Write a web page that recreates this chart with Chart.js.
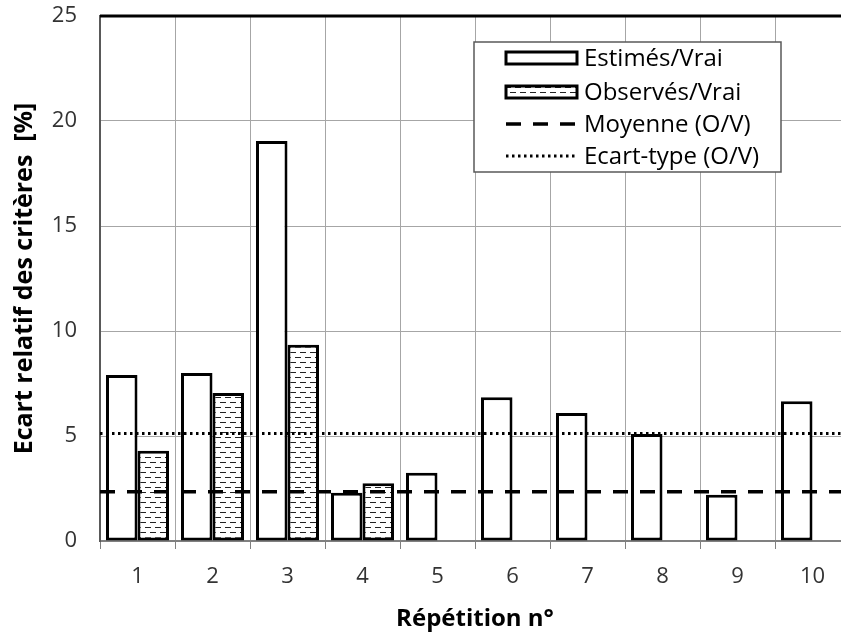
<!DOCTYPE html>
<html>
<head>
<meta charset="utf-8">
<script src="https://cdn.jsdelivr.net/npm/chart.js@4.4.1/dist/chart.umd.min.js"></script>
<style>
  html, body { margin: 0; padding: 0; background: #fff; overflow: hidden; }
  #chart { display: block; }
</style>
</head>
<body>
<canvas id="chart" width="860" height="634"></canvas>
<script>
const repetitions = ["1", "2", "3", "4", "5", "6", "7", "8", "9", "10"];
const estimes = [7.9, 8.0, 19.05, 2.3, 3.25, 6.85, 6.1, 5.1, 2.2, 6.65];
const observes = [4.3, 7.05, 9.35, 2.75, null, null, null, null, null, null];
const refLabels = ["Moyenne (O/V)", "Ecart-type (O/V)"];
const refValues = [2.35, 5.12];
const yTicks = [0, 5, 10, 15, 20, 25];

const refStyles = [
  { dash: [15, 12], width: 3.5 },
  { dash: [2.5, 3.5], width: 3 }
];

// hatch: short dashes on white, like the Excel pattern
function makePattern() {
  const c = document.createElement("canvas");
  c.width = 10;
  c.height = 10;
  const g = c.getContext("2d");
  g.fillStyle = "#fff";
  g.fillRect(0, 0, 10, 10);
  g.fillStyle = "#222";
  g.fillRect(0, 2, 6, 1);
  g.fillRect(5, 7, 5, 1);
  g.fillRect(0, 7, 1, 1);
  return g.createPattern(c, "repeat");
}
const hatch = makePattern();

const font = "'Open Sans', sans-serif";

// horizontal reference lines + thick top border, on top of the bars
const refLinesPlugin = {
  id: "refLines",
  afterDatasetsDraw(chart) {
    const { ctx, chartArea: a, scales } = chart;
    ctx.save();
    ctx.beginPath();
    ctx.rect(a.left, a.top - 2, a.right - a.left, a.bottom - a.top + 2);
    ctx.clip();
    refValues.forEach((v, i) => {
      const y = scales.y.getPixelForValue(v);
      ctx.strokeStyle = "#000";
      ctx.lineWidth = refStyles[i].width;
      ctx.setLineDash(refStyles[i].dash);
      ctx.beginPath();
      ctx.moveTo(a.left, y);
      ctx.lineTo(a.right, y);
      ctx.stroke();
    });
    ctx.setLineDash([]);
    ctx.lineWidth = 3;
    ctx.beginPath();
    ctx.moveTo(a.left, a.top);
    ctx.lineTo(a.right, a.top);
    ctx.stroke();
    ctx.restore();
  }
};

const legendBox = {
  id: "legendBox",
  afterDraw(chart) {
    const ctx = chart.ctx;
    const x = 474, y = 42, w = 307, h = 130;
    const rows = [58, 92, 124, 156];
    const sx = 506, ex = 577;
    ctx.save();
    ctx.fillStyle = "#fff";
    ctx.fillRect(x, y, w, h);
    ctx.strokeStyle = "#595959";
    ctx.lineWidth = 1.5;
    ctx.strokeRect(x, y, w, h);
    ctx.font = "24px " + font;
    ctx.textBaseline = "middle";
    chart.data.datasets.forEach((ds, i) => {
      const cy = rows[i];
      ctx.fillStyle = ds.backgroundColor;
      ctx.fillRect(sx, cy - 6, ex - sx, 12);
      ctx.strokeStyle = "#000";
      ctx.lineWidth = 3;
      ctx.strokeRect(sx, cy - 6, ex - sx, 12);
      ctx.fillStyle = "#000";
      ctx.fillText(ds.label, 584, cy + 1);
    });
    refLabels.forEach((lab, j) => {
      const cy = rows[chart.data.datasets.length + j];
      ctx.strokeStyle = "#000";
      ctx.lineWidth = refStyles[j].width;
      ctx.setLineDash(refStyles[j].dash);
      ctx.beginPath();
      ctx.moveTo(sx, cy);
      ctx.lineTo(ex, cy);
      ctx.stroke();
      ctx.setLineDash([]);
      ctx.fillStyle = "#000";
      ctx.fillText(lab, 584, cy + 1);
    });
    ctx.restore();
  }
};

new Chart(document.getElementById("chart"), {
  type: "bar",
  data: {
    labels: repetitions,
    datasets: [
      {
        label: "Estimés/Vrai",
        data: estimes,
        backgroundColor: "#fff",
        borderColor: "#000",
        borderWidth: 3,
        borderSkipped: false
      },
      {
        label: "Observés/Vrai",
        data: observes,
        backgroundColor: hatch,
        borderColor: "#000",
        borderWidth: 3,
        borderSkipped: false
      }
    ]
  },
  options: {
    responsive: false,
    animation: false,
    categoryPercentage: 0.84,
    barPercentage: 1,
    layout: { padding: { top: 16, right: 10, bottom: 0, left: 0 } },
    plugins: {
      legend: { display: false },
      tooltip: { enabled: false }
    },
    scales: {
      x: {
        grid: { offset: true, color: "#a6a6a6", lineWidth: 1, tickLength: 8, tickColor: "#808080" },
        border: { color: "#808080", width: 2 },
        ticks: { color: "#333", padding: 15, font: { family: font, size: 22 } },
        title: {
          display: true,
          text: "Répétition n°",
          color: "#000",
          padding: { top: 0, bottom: 0 },
          font: { family: font, size: 24, weight: "bold" }
        },
        afterFit(s) { s.height = 93; }
      },
      y: {
        min: 0,
        max: 25,
        afterBuildTicks(s) { s.ticks = yTicks.map(v => ({ value: v })); },
        grid: { color: "#a6a6a6", lineWidth: 1, drawTicks: false },
        border: { color: "#595959", width: 2 },
        ticks: { color: "#333", padding: 23, font: { family: font, size: 22 } },
        title: {
          display: true,
          text: "Ecart relatif des critères  [%]",
          color: "#000",
          padding: { top: 10, bottom: 0 },
          font: { family: font, size: 25, weight: "bold" }
        },
        afterFit(s) {
          s.width = 100;
          s.paddingTop = 0;
          s.paddingBottom = 0;
        }
      }
    }
  },
  plugins: [refLinesPlugin, legendBox]
});
</script>
</body>
</html>
